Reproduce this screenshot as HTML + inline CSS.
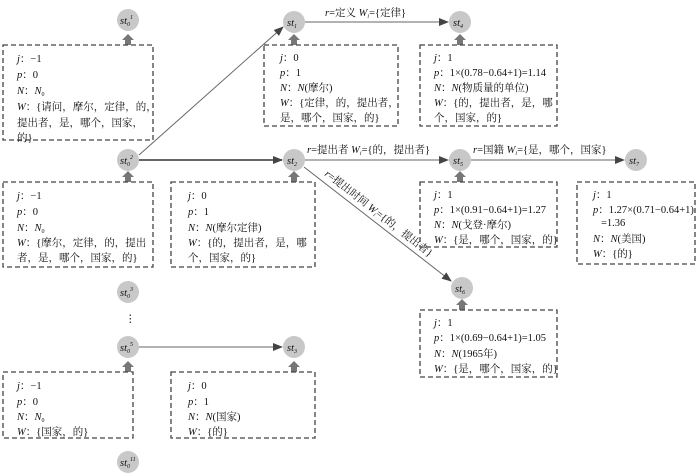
<!DOCTYPE html>
<html><head><meta charset="utf-8"><style>
body{margin:0;background:#fff}
svg{display:block}
text{font-family:"Liberation Serif","Noto Serif CJK SC",serif;font-size:10.5px;fill:#111}
.i{font-style:italic}
.c{fill:#c8c8c8}
.b{fill:none;stroke:#444;stroke-width:1.3;stroke-dasharray:5,3}
.l{stroke:#666;stroke-width:1}
</style></head><body>
<svg width="700" height="474" viewBox="0 0 700 474" xmlns="http://www.w3.org/2000/svg">
<defs>
<marker id="a" markerWidth="10" markerHeight="8" refX="9" refY="4" orient="auto" markerUnits="userSpaceOnUse"><path d="M0,0L10,4L0,8z" fill="#444"/></marker>
<g id="up"><path d="M-6,0L0,-6L6,0L3,0L3,5L-3,5L-3,0z" fill="#777"/></g>
</defs>
<!-- edges -->
<line class="l" x1="139" y1="155" x2="283" y2="27" marker-end="url(#a)"/>
<line x1="139" y1="160" x2="282" y2="160" stroke="#666" stroke-width="2" marker-end="url(#a)"/>
<line class="l" x1="305" y1="22" x2="448" y2="22" marker-end="url(#a)"/>
<line class="l" x1="305" y1="160" x2="448" y2="160" marker-end="url(#a)"/>
<line class="l" x1="471" y1="160" x2="624" y2="160" marker-end="url(#a)"/>
<line class="l" x1="304" y1="167" x2="451" y2="281" marker-end="url(#a)"/>
<line class="l" x1="139" y1="347" x2="282" y2="347" marker-end="url(#a)"/>
<!-- edge labels -->
<text x="325" y="16"><tspan class="i">r</tspan>=定义 <tspan class="i">W</tspan><tspan font-size="6" dy="2" class="i">i</tspan><tspan dy="-2">={定律}</tspan></text>
<text x="307" y="153"><tspan class="i">r</tspan>=提出者 <tspan class="i">W</tspan><tspan font-size="6" dy="2" class="i">i</tspan><tspan dy="-2">={的，提出者}</tspan></text>
<text x="473" y="153"><tspan class="i">r</tspan>=国籍 <tspan class="i">W</tspan><tspan font-size="6" dy="2" class="i">i</tspan><tspan dy="-2">={是，哪个，国家}</tspan></text>
<text transform="translate(324,175) rotate(38)"><tspan class="i">r</tspan>=提出时间 <tspan class="i">W</tspan><tspan font-size="6" dy="2" class="i">i</tspan><tspan dy="-2">={的，提出者}</tspan></text>
<!-- nodes -->
<g>
<circle class="c" cx="128" cy="20" r="11"/><text x="120" y="24" class="i" font-size="9">st<tspan font-size="6" dy="2">0</tspan><tspan font-size="6" dy="-7">1</tspan></text>
<circle class="c" cx="128" cy="160" r="11"/><text x="120" y="164" class="i" font-size="9">st<tspan font-size="6" dy="2">0</tspan><tspan font-size="6" dy="-7">2</tspan></text>
<circle class="c" cx="128" cy="292" r="11"/><text x="120" y="296" class="i" font-size="9">st<tspan font-size="6" dy="2">0</tspan><tspan font-size="6" dy="-7">3</tspan></text>
<circle class="c" cx="128" cy="347" r="11"/><text x="120" y="351" class="i" font-size="9">st<tspan font-size="6" dy="2">0</tspan><tspan font-size="6" dy="-7">5</tspan></text>
<circle class="c" cx="128" cy="462" r="11"/><text x="120" y="466" class="i" font-size="9">st<tspan font-size="6" dy="2">0</tspan><tspan font-size="6" dy="-7">11</tspan></text>
<text x="125" y="322" font-size="12">⋮</text>
<circle class="c" cx="294" cy="22" r="11"/><text x="287" y="26" class="i" font-size="9">st<tspan font-size="6" dy="2">1</tspan></text>
<circle class="c" cx="294" cy="160" r="11"/><text x="287" y="164" class="i" font-size="9">st<tspan font-size="6" dy="2">2</tspan></text>
<circle class="c" cx="294" cy="347" r="11"/><text x="287" y="351" class="i" font-size="9">st<tspan font-size="6" dy="2">3</tspan></text>
<circle class="c" cx="460" cy="22" r="11"/><text x="453" y="26" class="i" font-size="9">st<tspan font-size="6" dy="2">4</tspan></text>
<circle class="c" cx="460" cy="160" r="11"/><text x="453" y="164" class="i" font-size="9">st<tspan font-size="6" dy="2">5</tspan></text>
<circle class="c" cx="462" cy="288" r="11"/><text x="455" y="292" class="i" font-size="9">st<tspan font-size="6" dy="2">6</tspan></text>
<circle class="c" cx="636" cy="160" r="11"/><text x="629" y="164" class="i" font-size="9">st<tspan font-size="6" dy="2">7</tspan></text>
</g>
<!-- up arrows -->
<use href="#up" x="128" y="40"/><use href="#up" x="128" y="177"/><use href="#up" x="128" y="367"/>
<use href="#up" x="294" y="40"/><use href="#up" x="294" y="177"/><use href="#up" x="294" y="367"/>
<use href="#up" x="460" y="40"/><use href="#up" x="460" y="177"/><use href="#up" x="462" y="305"/>
<!-- boxes -->
<rect class="b" x="3" y="45" width="150" height="95"/>
<text x="17" y="62"><tspan class="i">j</tspan>：−1</text>
<text x="17" y="78"><tspan class="i">p</tspan>：0</text>
<text x="17" y="94"><tspan class="i">N</tspan>：<tspan class="i">N</tspan><tspan font-size="6" dy="2">0</tspan></text>
<text x="17" y="110"><tspan class="i">W</tspan>：{请问，摩尔，定律，的，</text>
<text x="17" y="126">提出者，是，哪个，国家，</text>
<text x="17" y="141">的}</text>

<rect class="b" x="3" y="182" width="150" height="85"/>
<text x="17" y="199"><tspan class="i">j</tspan>：−1</text>
<text x="17" y="215"><tspan class="i">p</tspan>：0</text>
<text x="17" y="231"><tspan class="i">N</tspan>：<tspan class="i">N</tspan><tspan font-size="6" dy="2">0</tspan></text>
<text x="17" y="246"><tspan class="i">W</tspan>：{摩尔，定律，的，提出</text>
<text x="17" y="261">者，是，哪个，国家，的}</text>

<rect class="b" x="171" y="182" width="144" height="85"/>
<text x="188" y="199"><tspan class="i">j</tspan>：0</text>
<text x="188" y="215"><tspan class="i">p</tspan>：1</text>
<text x="188" y="231"><tspan class="i">N</tspan>：<tspan class="i">N</tspan>(摩尔定律)</text>
<text x="188" y="246"><tspan class="i">W</tspan>：{的，提出者，是，哪</text>
<text x="188" y="261">个，国家，的}</text>

<rect class="b" x="264" y="45" width="134" height="81"/>
<text x="280" y="61"><tspan class="i">j</tspan>：0</text>
<text x="280" y="76"><tspan class="i">p</tspan>：1</text>
<text x="280" y="91"><tspan class="i">N</tspan>：<tspan class="i">N</tspan>(摩尔)</text>
<text x="280" y="106"><tspan class="i">W</tspan>：{定律，的，提出者，</text>
<text x="280" y="121">是，哪个，国家，的}</text>

<rect class="b" x="420" y="45" width="137" height="81"/>
<text x="434" y="61"><tspan class="i">j</tspan>：1</text>
<text x="434" y="76"><tspan class="i">p</tspan>：1×(0.78−0.64+1)=1.14</text>
<text x="434" y="91"><tspan class="i">N</tspan>：<tspan class="i">N</tspan>(物质量的单位)</text>
<text x="434" y="106"><tspan class="i">W</tspan>：{的，提出者，是，哪</text>
<text x="434" y="121">个，国家，的}</text>

<rect class="b" x="420" y="182" width="137" height="65"/>
<text x="434" y="198"><tspan class="i">j</tspan>：1</text>
<text x="434" y="213"><tspan class="i">p</tspan>：1×(0.91−0.64+1)=1.27</text>
<text x="434" y="228"><tspan class="i">N</tspan>：<tspan class="i">N</tspan>(戈登·摩尔)</text>
<text x="434" y="243"><tspan class="i">W</tspan>：{是，哪个，国家，的}</text>

<rect class="b" x="577" y="182" width="118" height="82"/>
<text x="593" y="198"><tspan class="i">j</tspan>：1</text>
<text x="593" y="213"><tspan class="i">p</tspan>：1.27×(0.71−0.64+1)</text>
<text x="601" y="226">=1.36</text>
<text x="593" y="242"><tspan class="i">N</tspan>：<tspan class="i">N</tspan>(美国)</text>
<text x="593" y="257"><tspan class="i">W</tspan>：{的}</text>

<rect class="b" x="420" y="310" width="137" height="67"/>
<text x="434" y="326"><tspan class="i">j</tspan>：1</text>
<text x="434" y="341"><tspan class="i">p</tspan>：1×(0.69−0.64+1)=1.05</text>
<text x="434" y="357"><tspan class="i">N</tspan>：<tspan class="i">N</tspan>(1965年)</text>
<text x="434" y="372"><tspan class="i">W</tspan>：{是，哪个，国家，的}</text>

<rect class="b" x="3" y="372" width="130" height="66"/>
<text x="17" y="389"><tspan class="i">j</tspan>：−1</text>
<text x="17" y="405"><tspan class="i">p</tspan>：0</text>
<text x="17" y="420"><tspan class="i">N</tspan>：<tspan class="i">N</tspan><tspan font-size="6" dy="2">0</tspan></text>
<text x="17" y="435"><tspan class="i">W</tspan>：{国家，的}</text>

<rect class="b" x="171" y="372" width="144" height="66"/>
<text x="188" y="389"><tspan class="i">j</tspan>：0</text>
<text x="188" y="405"><tspan class="i">p</tspan>：1</text>
<text x="188" y="420"><tspan class="i">N</tspan>：<tspan class="i">N</tspan>(国家)</text>
<text x="188" y="435"><tspan class="i">W</tspan>：{的}</text>
</svg>
</body></html>
